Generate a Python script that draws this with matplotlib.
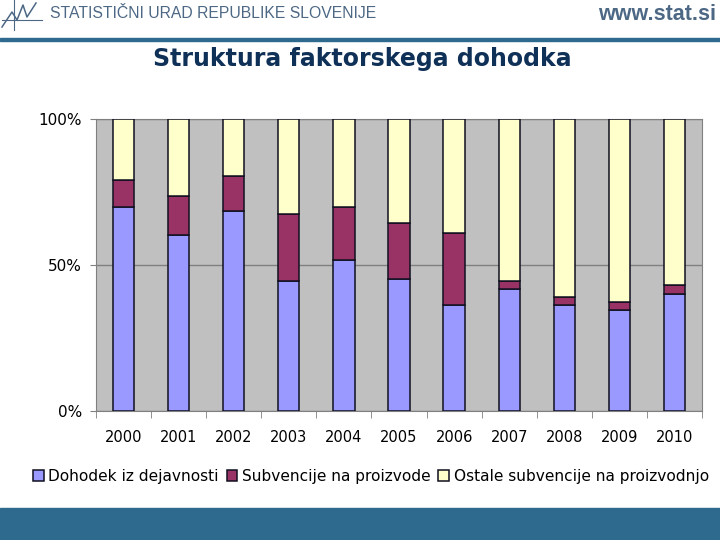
import matplotlib.pyplot as plt
import numpy as np
from matplotlib.lines import Line2D
from matplotlib.patches import Rectangle

years = ["2000", "2001", "2002", "2003", "2004", "2005",
         "2006", "2007", "2008", "2009", "2010"]
dohodek = [69.7, 60.3, 68.6, 44.4, 51.6, 45.0, 36.3, 41.8, 36.3, 34.6, 40.1]
subv_proizvodi = [9.5, 13.3, 11.8, 23.1, 18.2, 19.3, 24.7, 2.7, 2.8, 2.8, 2.9]
ostale = [100 - a - b for a, b in zip(dohodek, subv_proizvodi)]
labels = ["Dohodek iz dejavnosti", "Subvencije na proizvode",
          "Ostale subvencije na proizvodnjo"]
colors = ["#9999FF", "#993366", "#FFFFCC"]

fig = plt.figure(figsize=(7.2, 5.4), dpi=100)
fig.patch.set_facecolor("white")

# header
fig.text(50 / 720, 1 - 14 / 540, "STATISTIČNI URAD REPUBLIKE SLOVENIJE",
         fontsize=11.3, color="#4d6885", va="center", ha="left",
         family="Liberation Sans")
fig.text(716 / 720, 1 - 14 / 540, "www.stat.si", fontsize=15.5, fontweight="bold",
         color="#4d6885", va="center", ha="right", family="Liberation Sans")
# logo
fig.add_artist(Line2D([14 / 720, 14 / 720], [1 - 0 / 540, 1 - 30 / 540],
                      color="#4d6885", lw=0.8))
fig.add_artist(Line2D([2 / 720, 42 / 720], [1 - 20 / 540, 1 - 20 / 540],
                      color="#4d6885", lw=0.8))
zx = np.array([2, 12, 17, 23, 27, 36]) / 720
zy = 1 - np.array([27, 12, 20, 5, 17, 3]) / 540
fig.add_artist(Line2D(zx, zy, color="#4d6885", lw=1.1))
fig.add_artist(Rectangle((0, 1 - 41 / 540), 1, 3 / 540, color="#2d6a8e",
                         transform=fig.transFigure))
fig.add_artist(Rectangle((0, 0), 1, 32 / 540, color="#2d6a8e",
                         transform=fig.transFigure))
fig.text(362 / 720, 1 - 66 / 540, "Struktura faktorskega dohodka", fontsize=17,
         fontweight="bold", color="#0f3057", ha="center", va="baseline")

ax = fig.add_axes([95.7 / 720, 1 - 410.7 / 540, 606.6 / 720, 291.7 / 540])
ax.set_facecolor("#C0C0C0")
x = np.arange(len(years))
bottom = np.zeros(len(years))
for vals, lab, col in zip([dohodek, subv_proizvodi, ostale], labels, colors):
    ax.bar(x, vals, width=0.39, bottom=bottom, color=col, edgecolor="#101020",
           linewidth=1.1, label=lab, zorder=3)
    bottom += np.array(vals)

ax.set_xlim(-0.5, len(years) - 0.5)
ax.set_ylim(0, 100)
ax.set_yticks([0, 50, 100])
ax.set_yticklabels(["0%", "50%", "100%"], fontsize=11)
ax.yaxis.grid(True, color="#808080", linewidth=1.0, zorder=0)
ax.set_xticks(x)
ax.set_xticklabels(years, fontsize=10.5)
ax.set_xticks(np.arange(-0.5, len(years)), minor=True)
ax.tick_params(axis="x", which="major", length=0, pad=14)
ax.tick_params(axis="x", which="minor", length=5, color="#808080")
ax.tick_params(axis="y", length=4, color="#808080", pad=6)
for side in ["top", "right", "left", "bottom"]:
    ax.spines[side].set_color("#808080")

fig.legend(loc="center", bbox_to_anchor=(371 / 720, 1 - 476 / 540), ncol=3,
           frameon=False, fontsize=11.1, handlelength=0.7, handleheight=0.7,
           handletextpad=0.3, columnspacing=0.5, borderaxespad=0)

fig.savefig("out.png", dpi=100)
